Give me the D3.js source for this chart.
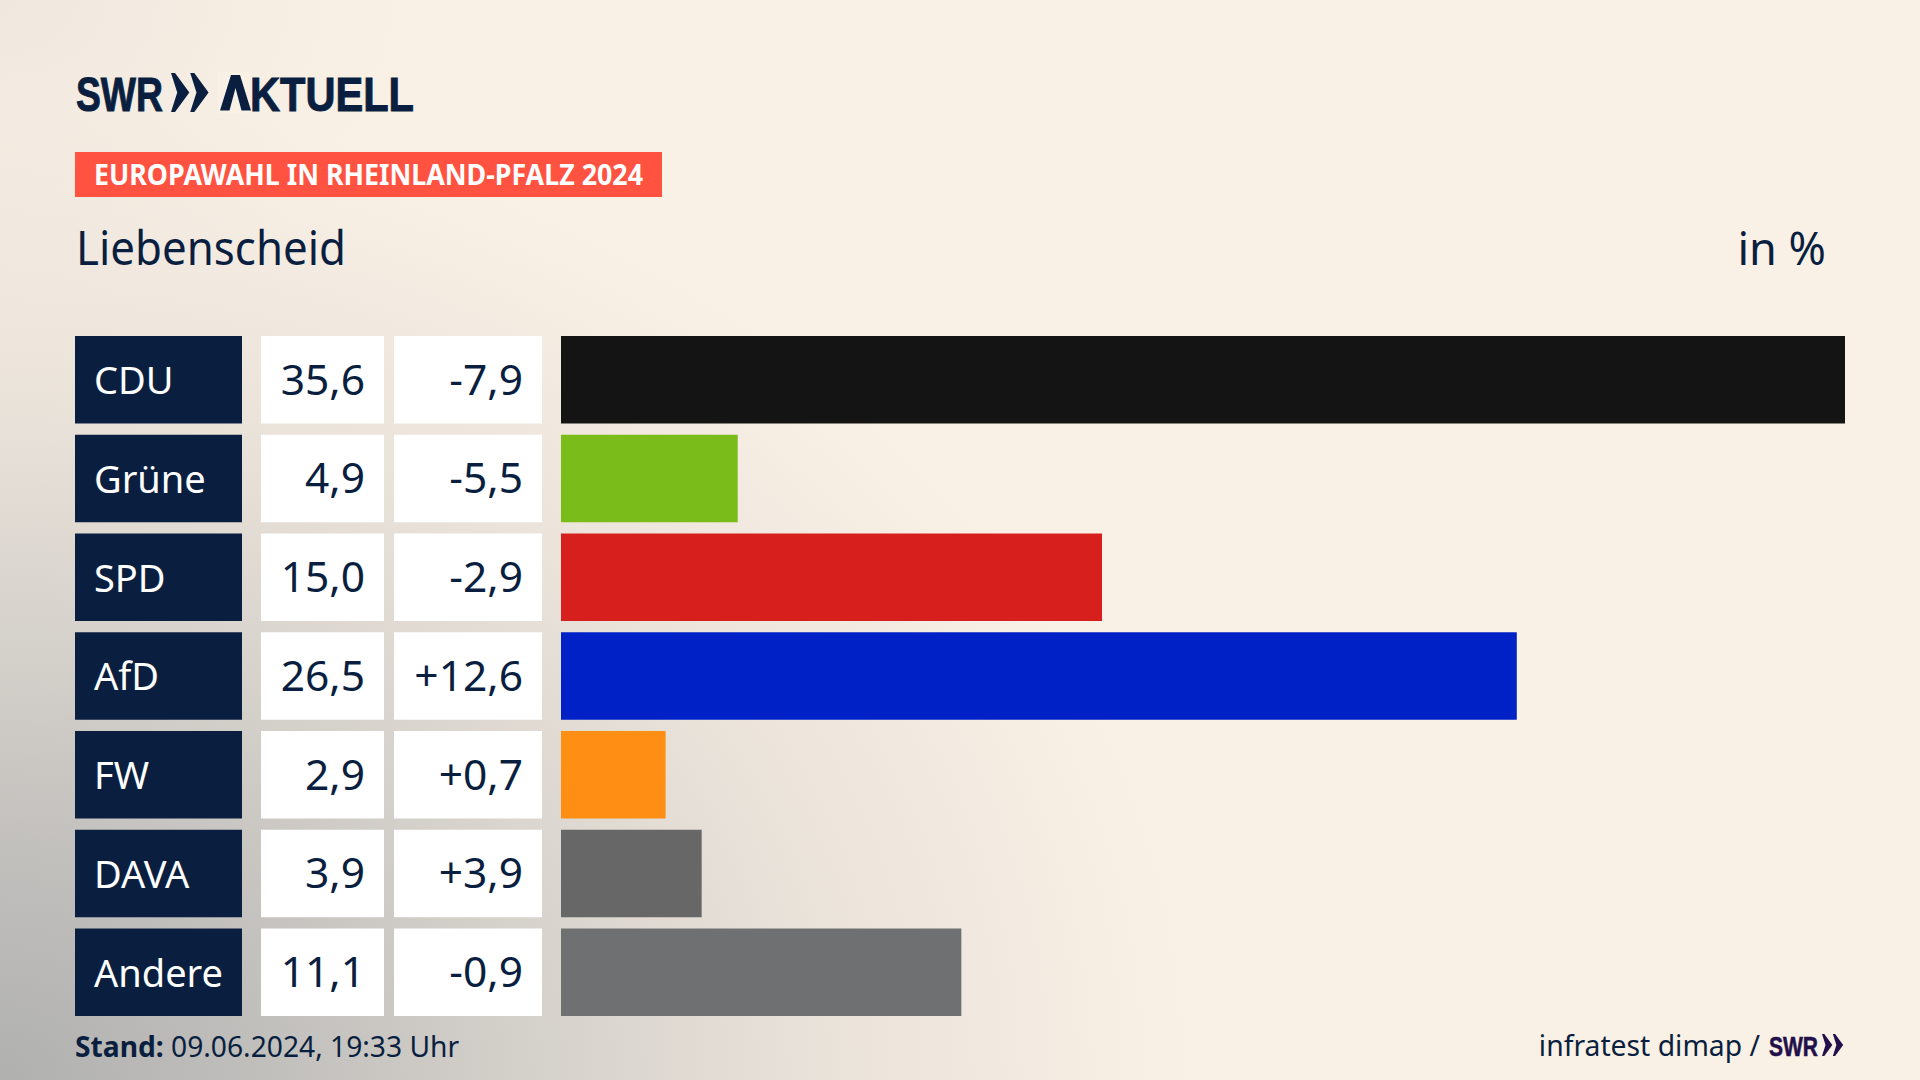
<!DOCTYPE html>
<html lang="de">
<head>
<meta charset="utf-8">
<title>Europawahl Liebenscheid</title>
<script src="https://cdn.jsdelivr.net/npm/d3@7"></script>
<style>
  html, body { margin: 0; padding: 0; background: #faf1e6; }
  svg { display: block; }
  text { font-family: "Noto Sans", sans-serif; }
</style>
</head>
<body>
<div id="chart"></div>
<script>
// Values
var parties = ['CDU', 'Grüne', 'SPD', 'AfD', 'FW', 'DAVA', 'Andere'];
var results = [35.6, 4.9, 15.0, 26.5, 2.9, 3.9, 11.1];
var changes = [-7.9, -5.5, -2.9, 12.6, 0.7, 3.9, -0.9];
var barColors = ['#141414', '#7abd1b', '#d7201e', '#0021c6', '#ff8e14', '#676767', '#6f7072'];

var NAVY = '#0a1f3f';
var LOGO_FONT = '"Liberation Sans Narrow", sans-serif';
var W = 1920, H = 1080;

var de = d3.formatLocale({ decimal: ',', thousands: '.', grouping: [3], currency: ['', ''], minus: '-' });
var fmtResult = de.format('.1f');
var fmtChange = de.format('+.1f');

var svg = d3.select('#chart').append('svg').attr('width', W).attr('height', H);
var defs = svg.append('defs');

function fogGradient(id, transform, stops) {
  var g = defs.append('radialGradient').attr('id', id)
    .attr('gradientUnits', 'userSpaceOnUse')
    .attr('cx', 0).attr('cy', 0).attr('r', 1)
    .attr('gradientTransform', transform);
  stops.forEach(function (s) {
    g.append('stop').attr('offset', s[0]).attr('stop-color', '#a3a5a6').attr('stop-opacity', s[1]);
  });
}

// Background: warm cream with grey fog from the lower left, a little at the top left
fogGradient('fog', 'translate(0,1080) scale(1200,980)',
  [[0, 0.85], [0.2, 0.68], [0.45, 0.42], [0.7, 0.18], [1, 0]]);
fogGradient('fogTop', 'translate(0,0) scale(420,300)', [[0, 0.12], [1, 0]]);

svg.append('rect').attr('width', W).attr('height', H).attr('fill', '#faf1e6');
svg.append('rect').attr('width', W).attr('height', H).attr('fill', 'url(#fog)');
svg.append('rect').attr('width', W).attr('height', H).attr('fill', 'url(#fogTop)');

// Logo
function chevrons(g, x, y, h, fill) {
  var w = h * 0.47;
  [0, w * 1.05].forEach(function (dx) {
    var p = d3.path();
    p.moveTo(x + dx, y);
    p.lineTo(x + dx + w * 0.22, y);
    p.lineTo(x + dx + w, y + h / 2);
    p.lineTo(x + dx + w * 0.22, y + h);
    p.lineTo(x + dx, y + h);
    p.lineTo(x + dx + w * 0.34, y + h / 2);
    p.closePath();
    g.append('path').attr('d', p.toString()).attr('fill', fill);
  });
}

function logoText(g, label, xPos, yPos, len, size, fill) {
  return g.append('text').text(label)
    .attr('x', xPos).attr('y', yPos)
    .attr('textLength', len).attr('lengthAdjust', 'spacingAndGlyphs')
    .attr('stroke', fill).attr('stroke-width', size / 48)
    .style('font-family', LOGO_FONT)
    .style('font-weight', 700).style('font-size', size + 'px').attr('fill', fill);
}

var logo = svg.append('g');
logoText(logo, 'SWR', 76, 110.5, 87, 49, NAVY);
chevrons(logo, 171, 73, 39, NAVY);
logoText(logo, 'AKTUELL', 220, 110.5, 194, 49, NAVY);
// the logo's A has no crossbar
logo.append('rect').attr('x', 218).attr('y', 72).attr('width', 32).attr('height', 41).attr('fill', '#f9f1e6');
logo.append('path').attr('d', 'M220,110.5 L231,75 L240,75 L251,110.5 L241.5,110.5 L235.5,88 L229.5,110.5 Z').attr('fill', NAVY);

// Header
svg.append('rect').attr('x', 75).attr('y', 152).attr('width', 587).attr('height', 45).attr('fill', '#ff5240');
svg.append('text').text('EUROPAWAHL IN RHEINLAND-PFALZ 2024')
  .attr('x', 94).attr('y', 185)
  .attr('textLength', 549).attr('lengthAdjust', 'spacingAndGlyphs')
  .style('font-weight', 700).style('font-size', '29px').attr('fill', '#fff');
svg.append('text').text('Liebenscheid')
  .attr('x', 76).attr('y', 265)
  .attr('textLength', 270).attr('lengthAdjust', 'spacingAndGlyphs')
  .style('font-size', '47px').attr('fill', NAVY);
svg.append('text').text('in %')
  .attr('x', 1826).attr('y', 265).attr('text-anchor', 'end')
  .style('font-size', '45px').attr('fill', NAVY);

// Scales
var x = d3.scaleLinear().domain([0, 35.6]).range([561, 1845]);
var y = d3.scaleBand().domain(parties).range([336, 1016]).paddingInner(0.114);

var rows = svg.append('g').selectAll('g')
  .data(parties).enter()
  .append('g')
  .attr('transform', function (d) { return 'translate(0,' + y(d) + ')'; });

var bh = y.bandwidth();
var baseline = bh / 2 + 15;

rows.append('rect').attr('x', 75).attr('width', 167).attr('height', bh).attr('fill', NAVY);
rows.append('rect').attr('x', 261).attr('width', 123).attr('height', bh).attr('fill', '#fff');
rows.append('rect').attr('x', 394).attr('width', 148).attr('height', bh).attr('fill', '#fff');
rows.append('rect')
  .attr('x', x(0)).attr('height', bh)
  .attr('width', function (d, i) { return x(results[i]) - x(0); })
  .attr('fill', function (d, i) { return barColors[i]; });

rows.append('text').text(function (d) { return d; })
  .attr('x', 94).attr('y', baseline - 0.5)
  .style('font-size', '38px').attr('fill', '#fff');
rows.append('text').text(function (d, i) { return fmtResult(results[i]); })
  .attr('x', 365).attr('y', baseline).attr('text-anchor', 'end')
  .style('font-size', '42.5px').attr('fill', NAVY);
rows.append('text').text(function (d, i) { return fmtChange(changes[i]); })
  .attr('x', 523).attr('y', baseline).attr('text-anchor', 'end')
  .style('font-size', '42.5px').attr('fill', NAVY);

// Footer
var stand = svg.append('text').attr('x', 75).attr('y', 1057)
  .style('font-size', '28.2px').attr('fill', NAVY);
stand.append('tspan').text('Stand:').style('font-weight', 700);
stand.append('tspan').text(' 09.06.2024, 19:33 Uhr');

svg.append('text').text('infratest dimap /')
  .attr('x', 1760).attr('y', 1056).attr('text-anchor', 'end')
  .style('font-size', '28.3px').attr('fill', NAVY);
logoText(svg, 'SWR', 1769, 1056, 49, 27, '#22104a');
chevrons(svg.append('g'), 1822, 1034, 22, '#22104a');
</script>
</body>
</html>
